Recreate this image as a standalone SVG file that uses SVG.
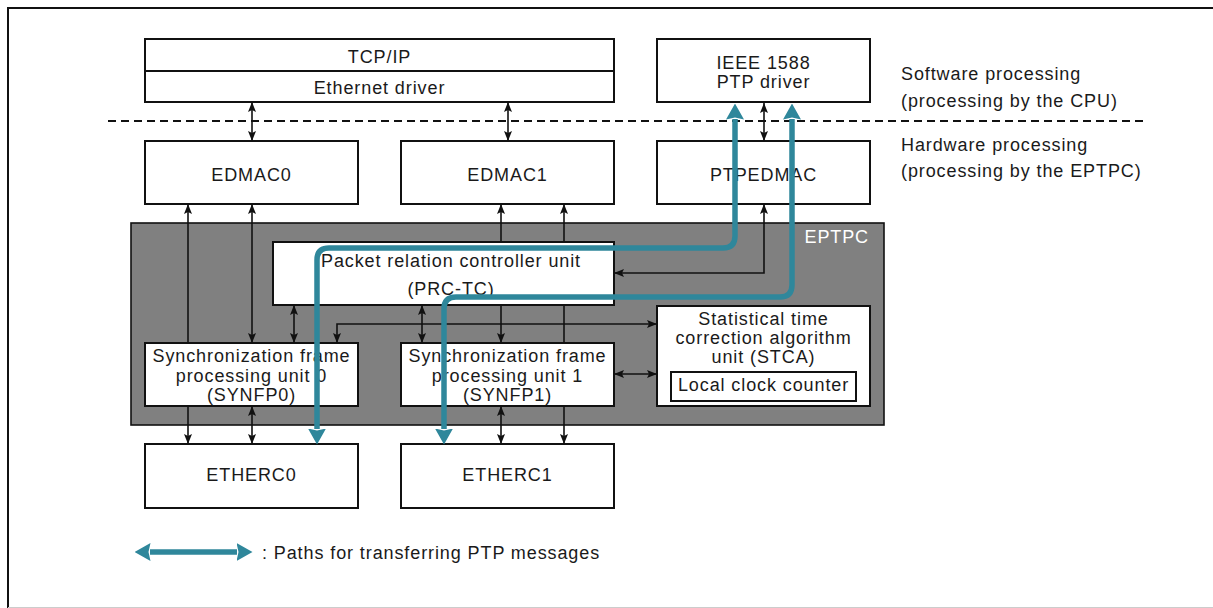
<svg xmlns="http://www.w3.org/2000/svg" width="1213" height="608" viewBox="0 0 1213 608">
<style>
  .box { fill: #ffffff; stroke: #111111; stroke-width: 2; }
  .t { font-family: "Liberation Sans", Arial, sans-serif; font-size: 18px; letter-spacing: 0.9px; fill: #1a1a1a; text-anchor: middle; }
  .tl { text-anchor: start; }
  .w { fill: #ffffff; text-anchor: end; }
  .c { fill: none; stroke: #111111; stroke-width: 1.6; }
  .p { fill: none; stroke: #2f879b; stroke-width: 5.5; }
  .ae { marker-end: url(#ah); }
  .as { marker-start: url(#ah); }
  .pe { marker-end: url(#th); marker-start: url(#th); }
</style>
<defs>
  <marker id="ah" viewBox="0 0 10 10" refX="10" refY="5" markerWidth="10" markerHeight="10" markerUnits="userSpaceOnUse" orient="auto-start-reverse">
    <path d="M0,1 L10,5 L0,9 L2,5 z" fill="#111111"/>
  </marker>
  <marker id="th" viewBox="0 0 16 18" refX="0.5" refY="9" markerWidth="16" markerHeight="18" markerUnits="userSpaceOnUse" orient="auto-start-reverse">
    <path d="M0,0 L16,9 L0,18 L2,9 z" fill="#2f879b"/>
  </marker>
</defs>

<g id="frame">
  <path d="M1215,8 L8,8 L8,610" fill="none" stroke="#111111" stroke-width="2"/>
  <line x1="8" y1="607.5" x2="1213" y2="607.5" stroke="#cccccc" stroke-width="1"/>
</g>

<g id="divider">
  <line x1="108" y1="121" x2="1143" y2="121" stroke="#111111" stroke-width="2" stroke-dasharray="8 5"/>
  <text class="t tl" x="901" y="80">Software processing</text>
  <text class="t tl" x="901" y="107">(processing by the CPU)</text>
  <text class="t tl" x="901" y="151">Hardware processing</text>
  <text class="t tl" x="901" y="177">(processing by the EPTPC)</text>
</g>

<g id="tcpip">
  <rect class="box" x="145" y="39" width="469" height="63"/>
  <line x1="145" y1="71" x2="614" y2="71" stroke="#111111" stroke-width="2"/>
  <text class="t" x="379.5" y="63">TCP/IP</text>
  <text class="t" x="379.5" y="94">Ethernet driver</text>
</g>

<g id="ptpdriver">
  <rect class="box" x="657" y="39" width="213" height="63"/>
  <text class="t" x="763.5" y="69">IEEE 1588</text>
  <text class="t" x="763.5" y="88">PTP driver</text>
</g>

<g id="edmac0">
  <rect class="box" x="145" y="141" width="213" height="63"/>
  <text class="t" x="251.5" y="181">EDMAC0</text>
</g>
<g id="edmac1">
  <rect class="box" x="401" y="141" width="213" height="63"/>
  <text class="t" x="507.5" y="181">EDMAC1</text>
</g>
<g id="ptpedmac">
  <rect class="box" x="657" y="141" width="213" height="63"/>
  <text class="t" x="763.5" y="181">PTPEDMAC</text>
</g>

<g id="eptpc">
  <rect x="131" y="223" width="753" height="202" fill="#808080" stroke="#111111" stroke-width="1.6"/>
  <text class="t w" x="869" y="243">EPTPC</text>
</g>

<g id="prctc">
  <rect class="box" x="273" y="242" width="341" height="63"/>
  <text class="t" x="451" y="267">Packet relation controller unit</text>
  <text class="t" x="451" y="295">(PRC-TC)</text>
</g>

<g id="synfp0">
  <rect class="box" x="145" y="343" width="213" height="63"/>
  <text class="t" x="251.5" y="362">Synchronization frame</text>
  <text class="t" x="251.5" y="382">processing unit 0</text>
  <text class="t" x="251.5" y="401">(SYNFP0)</text>
</g>
<g id="synfp1">
  <rect class="box" x="401" y="343" width="213" height="63"/>
  <text class="t" x="507.5" y="362">Synchronization frame</text>
  <text class="t" x="507.5" y="382">processing unit 1</text>
  <text class="t" x="507.5" y="401">(SYNFP1)</text>
</g>
<g id="stca">
  <rect class="box" x="657" y="306" width="213" height="100"/>
  <text class="t" x="763.5" y="325">Statistical time</text>
  <text class="t" x="763.5" y="344">correction algorithm</text>
  <text class="t" x="763.5" y="363">unit (STCA)</text>
  <rect class="box" x="671" y="372" width="185" height="29"/>
  <text class="t" x="763.5" y="391">Local clock counter</text>
</g>

<g id="etherc0">
  <rect class="box" x="145" y="444" width="213" height="64"/>
  <text class="t" x="251.5" y="481">ETHERC0</text>
</g>
<g id="etherc1">
  <rect class="box" x="401" y="444" width="213" height="64"/>
  <text class="t" x="507.5" y="481">ETHERC1</text>
</g>

<g id="connectors">
  <path class="c as ae" d="M252,102 L252,141"/>
  <path class="c as ae" d="M508,102 L508,141"/>
  <path class="c as ae" d="M764,103 L764,141"/>
  <path class="c ae" d="M188,343 L188,204"/>
  <path class="c as ae" d="M252,204 L252,343"/>
  <path class="c ae" d="M501,242 L501,204"/>
  <path class="c ae" d="M501,305 L501,343"/>
  <path class="c ae" d="M564,242 L564,204"/>
  <path class="c" d="M564,305 L564,343"/>
  <path class="c as ae" d="M614,273 L764,273 L764,204"/>
  <path class="c as ae" d="M294,305 L294,343"/>
  <path class="c as ae" d="M422,305 L422,343"/>
  <path class="c as ae" d="M657,324 L337,324 L337,343"/>
  <path class="c as ae" d="M614,374 L657,374"/>
  <path class="c ae" d="M188,406 L188,444"/>
  <path class="c as ae" d="M252,406 L252,444"/>
  <path class="c as ae" d="M501,406 L501,444"/>
  <path class="c ae" d="M564,406 L564,444"/>
  <path class="p pe" d="M735,119 L735,236 Q735,248 723,248 L329,248 Q317,248 317,260 L317,429"/>
  <path class="p pe" d="M792,119 L792,285 Q792,297 780,297 L456,297 Q444,297 444,309 L444,429"/>
</g>

<g id="legend">
  <path class="p pe" d="M150,552 L237,552"/>
  <text class="t tl" x="262" y="559">: Paths for transferring PTP messages</text>
</g>
</svg>
